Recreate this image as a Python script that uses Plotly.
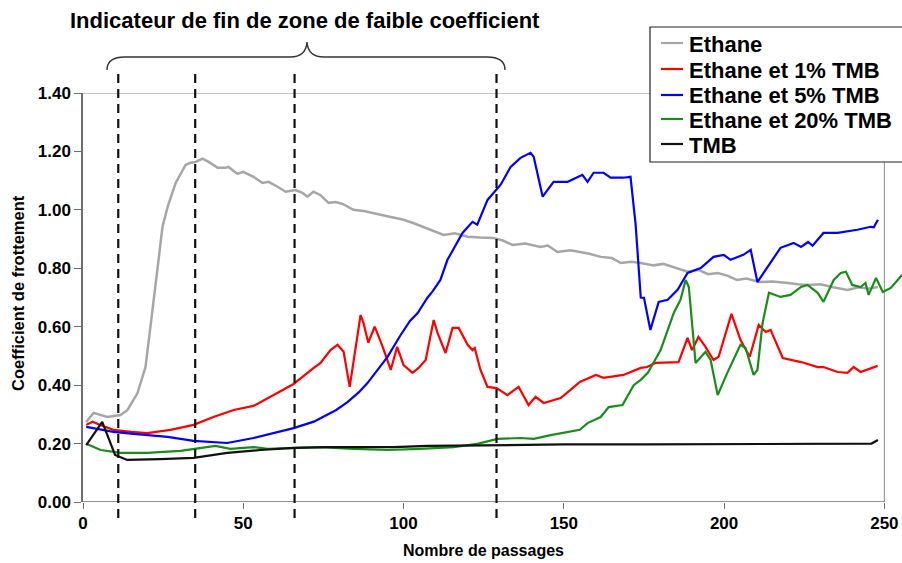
import plotly.graph_objects as go

# ---- Friction coefficient vs number of passes ----
names = ["Ethane", "Ethane et 1% TMB", "Ethane et 5% TMB", "Ethane et 20% TMB", "TMB"]
colors = ["#a6a6a6", "#ff0000", "#0000ff", "#1a8c1a", "#111111"]

ethane_x = [1, 3.3, 7.6, 11.7, 13.9, 15.8, 17, 19.5, 21, 22.6, 23.2, 24.8, 26.4, 28.9, 30.4, 32,
            33.5, 35.1, 37.3, 39.2, 42, 44.5, 45.4, 48.2, 50, 53.2, 56, 57.9, 60.7, 63.2, 66.3,
            68.5, 70, 71.9, 74, 76.6, 78.8, 81, 84.4, 88, 92.8, 96, 100, 103, 106, 109, 112.5,
            116, 120, 124, 128, 131, 134, 138, 142.7, 145, 148, 152, 155, 158, 161.5, 165,
            167.8, 171, 174, 178, 181, 185, 188.6, 192, 195, 198, 201, 204, 207, 211, 215, 220,
            223, 226, 230, 234, 238.5, 242, 245, 248]
ethane_y = [0.274, 0.305, 0.291, 0.298, 0.315, 0.349, 0.373, 0.462, 0.589, 0.736, 0.795, 0.942,
            1.01, 1.092, 1.12, 1.154, 1.161, 1.164, 1.175, 1.164, 1.144, 1.144, 1.147, 1.123,
            1.13, 1.113, 1.092, 1.096, 1.079, 1.062, 1.068, 1.058, 1.045, 1.062, 1.051, 1.024,
            1.027, 1.02, 1.0, 0.995, 0.983, 0.975, 0.966, 0.955, 0.942, 0.93, 0.914, 0.92,
            0.908, 0.905, 0.904, 0.895, 0.88, 0.885, 0.873, 0.878, 0.856, 0.862, 0.856, 0.85,
            0.839, 0.835, 0.818, 0.822, 0.818, 0.81, 0.815, 0.8, 0.788, 0.795, 0.78, 0.784,
            0.775, 0.76, 0.765, 0.753, 0.755, 0.75, 0.745, 0.743, 0.745, 0.735, 0.726, 0.735,
            0.73, 0.736]

tmb1_x = [1, 3, 5, 9.5, 15, 20, 27.3, 34.5, 40.7, 47, 53.2, 59.5, 65.7, 72, 74.1, 77.2, 79.4,
          81.3, 83.2, 86.6, 87.5, 89, 91, 93.5, 96, 98, 100, 102.8, 104.7, 106.9, 109.4, 110.6,
          113.1, 115.3, 117.2, 120, 121.5, 122.2, 124, 126.2, 129, 132.4, 135.9, 139, 141.2,
          143.7, 149, 152, 155, 160, 162.4, 168.6, 174, 176, 178.6, 185.8, 188.6, 190, 192,
          194.2, 196.7, 198.3, 202.3, 205.1, 208, 210.8, 213, 214.5, 218.3, 224, 229.2, 231,
          235.4, 238.5, 240.4, 242.6, 247.9]
tmb1_y = [0.264, 0.275, 0.265, 0.247, 0.24, 0.236, 0.247, 0.264, 0.291, 0.315, 0.329, 0.366,
          0.404, 0.459, 0.476, 0.52, 0.538, 0.514, 0.394, 0.64, 0.613, 0.545, 0.60, 0.531, 0.452,
          0.531, 0.469, 0.442, 0.459, 0.486, 0.623, 0.579, 0.51, 0.596, 0.596, 0.538, 0.52,
          0.527, 0.452, 0.394, 0.39, 0.366, 0.394, 0.332, 0.36, 0.339, 0.356, 0.383, 0.411,
          0.435, 0.425, 0.435, 0.459, 0.462, 0.476, 0.479, 0.562, 0.52, 0.565, 0.531, 0.486,
          0.497, 0.644, 0.555, 0.497, 0.606, 0.582, 0.589, 0.493, 0.479, 0.462, 0.462, 0.445,
          0.442, 0.462, 0.445, 0.466]

tmb5_x = [1, 9.5, 15.8, 26.4, 34.5, 45, 53.2, 59.5, 65.7, 72, 75, 79, 82.5, 86, 88.8, 92, 95,
          99, 102, 104.4, 107.5, 109, 111.5, 113.7, 116, 118.4, 121.5, 123, 126.2, 130.3,
          133.4, 136.5, 139.6, 140.6, 143.4, 146.8, 151.2, 154.3, 155.8, 157.4, 159.3, 162.4,
          164.6, 168.6, 170.8, 172.4, 174, 175, 177, 179.6, 182.4, 185.5, 188.6, 192.7, 196.7,
          199.9, 202, 206, 208.3, 210.4, 213.5, 217.6, 221.7, 224, 226.2, 227.6, 231, 235.4,
          241.6, 245.7, 246.7, 248]
tmb5_y = [0.257, 0.24, 0.233, 0.223, 0.209, 0.202, 0.219, 0.236, 0.253, 0.275, 0.291, 0.315,
          0.342, 0.375, 0.408, 0.455, 0.497, 0.57, 0.62, 0.647, 0.70, 0.72, 0.76, 0.829, 0.875,
          0.921, 0.959, 0.949, 1.034, 1.086, 1.147, 1.178, 1.195, 1.182, 1.045, 1.096, 1.096,
          1.113, 1.12, 1.096, 1.127, 1.127, 1.11, 1.11, 1.113, 0.95, 0.70, 0.699, 0.589, 0.685,
          0.692, 0.726, 0.784, 0.801, 0.839, 0.846, 0.829, 0.846, 0.863, 0.753, 0.805, 0.87,
          0.887, 0.873, 0.89, 0.877, 0.921, 0.921, 0.932, 0.942, 0.94, 0.966]

tmb20_x = [1, 5.5, 11.7, 20, 30.4, 36.7, 41.3, 46, 53.2, 57.6, 65.7, 74.1, 84.4, 95, 105.3,
           115.6, 123, 129.3, 136.5, 140.6, 145.9, 152, 155, 157.4, 161.5, 164, 168.3, 171.8,
           174, 176.2, 180.2, 184.3, 186.4, 188, 189, 191.1, 194.2, 195.8, 198, 201, 205.1,
           206.7, 209.2, 210.4, 212, 214, 217.6, 220.7, 224, 226, 229.2, 231, 234.2, 236.4,
           238, 240, 242.6, 244.1, 245.1, 247.4, 249.5, 252, 255.5]
tmb20_y = [0.199, 0.178, 0.168, 0.168, 0.175, 0.185, 0.192, 0.182, 0.188, 0.182, 0.185, 0.188,
           0.182, 0.178, 0.182, 0.188, 0.199, 0.216, 0.219, 0.216, 0.229, 0.24, 0.247, 0.27,
           0.291, 0.325, 0.332, 0.40, 0.418, 0.442, 0.52, 0.647, 0.692, 0.76, 0.736, 0.476,
           0.514, 0.486, 0.366, 0.442, 0.538, 0.527, 0.435, 0.452, 0.613, 0.716, 0.702, 0.709,
           0.736, 0.743, 0.716, 0.685, 0.76, 0.784, 0.788, 0.743, 0.736, 0.75, 0.709, 0.767,
           0.719, 0.733, 0.777]

tmb_x = [1, 6, 10, 13.8, 24, 34.5, 45, 55.4, 65.7, 76.3, 86.6, 97, 107.5, 128, 150, 175, 200,
         225, 240, 246, 248]
tmb_y = [0.195, 0.274, 0.161, 0.144, 0.147, 0.151, 0.168, 0.178, 0.185, 0.188, 0.188, 0.188,
         0.192, 0.195, 0.197, 0.197, 0.198, 0.198, 0.198, 0.20, 0.212]

series_x = [ethane_x, tmb1_x, tmb5_x, tmb20_x, tmb_x]
series_y = [ethane_y, tmb1_y, tmb5_y, tmb20_y, tmb_y]
widths = [2.5, 2.2, 2.2, 2.2, 2.2]

# pass numbers marking the end of the low-friction zone
markers = [11, 35, 66, 129]

y_ticks = [0.0, 0.2, 0.4, 0.6, 0.8, 1.0, 1.2, 1.4]
x_ticks = [0, 50, 100, 150, 200, 250]

title_text = "Indicateur de fin de zone de faible coefficient"
x_title = "Nombre de passages"
y_title = "Coefficient de frottement"

W, H = 902, 563
ML, MR, MT, MB = 83, 0, 93, 61
PW, PH = W - ML - MR, H - MT - MB
X_MAX = 255.5
FONT = "Liberation Sans, Arial, sans-serif"
NARROW = "Liberation Sans Narrow, Arial Narrow, " + FONT


def px(x):
    return (x - ML) / PW


def py(y):
    return (H - MB - y) / PH


fig = go.Figure()
for xs, ys, n, c, w in zip(series_x, series_y, names, colors, widths):
    fig.add_trace(go.Scatter(x=xs, y=ys, mode="lines", name=n,
                             line=dict(color=c, width=w), showlegend=False))

shapes = []
# plot frame: top border at 1.40 and right border at 250
shapes.append(dict(type="line", xref="x", yref="y", x0=0, x1=250, y0=1.4, y1=1.4,
                   line=dict(color="#8c8c8c", width=1), layer="below"))
shapes.append(dict(type="line", xref="x", yref="y", x0=250, x1=250, y0=0, y1=1.4,
                   line=dict(color="#8c8c8c", width=1), layer="below"))
# x axis line
shapes.append(dict(type="line", xref="x", yref="y", x0=0, x1=250, y0=0, y1=0,
                   line=dict(color="#6e6e6e", width=1.5)))

# dashed markers
for m in markers:
    shapes.append(dict(type="line", xref="x", yref="paper", x0=m, x1=m,
                       y0=py(518), y1=py(72),
                       line=dict(color="#111111", width=2.2, dash="9px,6px")))

# curly brace over the markers
pts = [(107, 70), (107, 57), (125, 57), (290, 57), (306, 57), (307, 42), (308, 57),
       (324, 57), (487, 57), (505, 57), (505, 70)]
p = [(px(a), py(b)) for a, b in pts]
path = (f"M{p[0][0]},{p[0][1]} Q{p[1][0]},{p[1][1]} {p[2][0]},{p[2][1]} "
        f"L{p[3][0]},{p[3][1]} Q{p[4][0]},{p[4][1]} {p[5][0]},{p[5][1]} "
        f"Q{p[6][0]},{p[6][1]} {p[7][0]},{p[7][1]} L{p[8][0]},{p[8][1]} "
        f"Q{p[9][0]},{p[9][1]} {p[10][0]},{p[10][1]}")
shapes.append(dict(type="path", xref="paper", yref="paper", path=path,
                   line=dict(color="#333333", width=1.4)))

# legend box
shapes.append(dict(type="rect", xref="paper", yref="paper", x0=px(650), x1=px(906),
                   y0=py(162), y1=py(27), line=dict(color="#222222", width=1.2),
                   fillcolor="white"))
annotations = []
leg_y = [43, 69, 95, 119, 144]
for n, c, yy in zip(names, colors, leg_y):
    shapes.append(dict(type="line", xref="paper", yref="paper", x0=px(661), x1=px(683),
                       y0=py(yy), y1=py(yy), line=dict(color=c, width=2.2)))
    annotations.append(dict(xref="paper", yref="paper", x=px(687), y=py(yy + 1),
                            xanchor="left", yanchor="middle", text=n, showarrow=False,
                            font=dict(family=FONT, size=22, color="black", weight="bold")))

annotations.append(dict(xref="paper", yref="paper", x=px(305), y=py(20), text=title_text,
                        xanchor="center", yanchor="middle", showarrow=False,
                        font=dict(family=NARROW, size=22, color="black", weight="bold")))
# axis titles
annotations.append(dict(xref="paper", yref="paper", x=px(483), y=py(550), text=x_title,
                        xanchor="center", yanchor="middle", showarrow=False,
                        font=dict(family=NARROW, size=16, color="black", weight="bold")))
annotations.append(dict(xref="paper", yref="paper", x=px(18), y=py(293), text=y_title,
                        xanchor="center", yanchor="middle", showarrow=False, textangle=-90,
                        font=dict(family=FONT, size=16.5, color="black", weight="bold")))

fig.update_layout(
    width=W, height=H,
    margin=dict(l=ML, r=MR, t=MT, b=MB, pad=0),
    paper_bgcolor="white", plot_bgcolor="white",
    showlegend=False,
    shapes=shapes, annotations=annotations,
    font=dict(family=FONT, color="black"),
    xaxis=dict(range=[0, X_MAX], tickvals=x_ticks, ticktext=[str(v) for v in x_ticks],
               ticks="outside", ticklen=6, tickcolor="#6e6e6e", showgrid=False,
               zeroline=False, showline=False,
               tickfont=dict(family=FONT, size=17, weight="bold")),
    yaxis=dict(range=[0, 1.4], tickvals=y_ticks, ticktext=[f"{v:.2f}" for v in y_ticks],
               ticks="outside", ticklen=7, tickcolor="#6e6e6e", showgrid=False,
               zeroline=False, showline=True, linecolor="#6e6e6e", linewidth=1.5,
               tickfont=dict(family=FONT, size=17, weight="bold")),
)

fig.write_html("out.html")
